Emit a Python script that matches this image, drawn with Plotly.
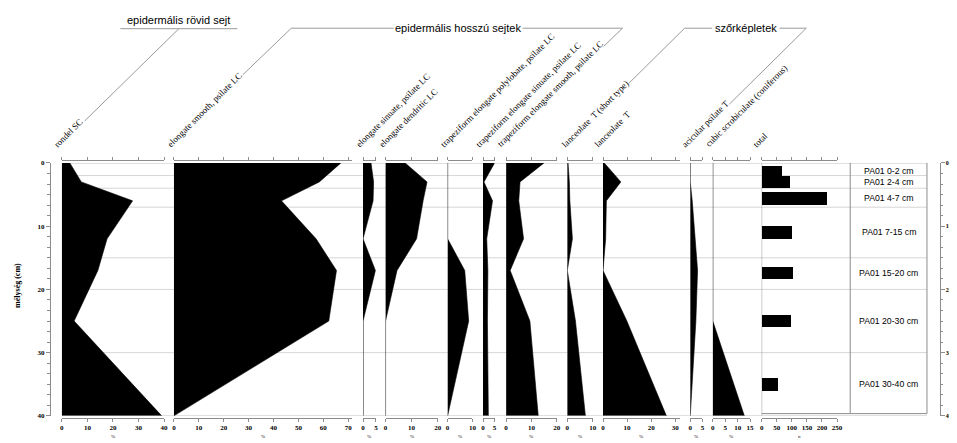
import plotly.graph_objects as go

# ---------------- data ----------------
curve_depth = [0, 3, 6, 12, 17, 25, 40]
rondel_sc = [3.1, 7.6, 27.7, 17.7, 14.1, 4.8, 39.1]
elongate_smooth = [67.1, 58.4, 43.2, 57.1, 65.3, 62.2, 0]
elongate_sinuate = [3.1, 4.1, 3.9, 0, 4.8, 0, 0]
elongate_dendritic = [7.5, 15.9, 14.4, 11.9, 4.4, 0, 0]
trap_polylobate = [0, 0, 0, 0, 6.9, 8.5, 0]
trap_sinuate = [5.0, 0.4, 4.1, 1.6, 2.1, 1.9, 2.3]
trap_smooth = [15.0, 5.5, 5.0, 6.9, 1.6, 9.4, 12.7]
lanceolate_short = [0.3, 0.8, 1.0, 2.0, 0, 3.2, 7.1]
lanceolate = [0.5, 7.4, 1.4, 1.1, 0, 9.9, 26.3]
acicular = [0, 0, 0.8, 2.0, 3.0, 2.3, 0]
cubic = [0, 0, 0, 0, 0, 0, 12.7]

sample_depth = [1.25, 3, 5.6, 11, 17.4, 25, 35]
sample_width = [1.5, 2, 2, 2, 2, 2, 2]
total_n = [66, 92, 215, 101, 103, 97, 54]
sample_labels = ["PA01 0-2 cm", "PA01 2-4 cm", "PA01 4-7 cm", "PA01 7-15 cm",
                 "PA01 15-20 cm", "PA01 20-30 cm", "PA01 30-40 cm"]
boundaries = [0, 2, 4, 7, 15, 20, 30, 40]

names = ["rondel SC", "elongate smooth, psilate LC", "elongate sinuate, psilate LC",
         "elongate dendritic LC", "trapeziform elongate polylobate, psilate LC",
         "trapeziform elongate sinuate, psilate LC", "trapeziform elongate smooth, psilate LC",
         "lanceolate  T (short type)", "lanceolate  T", "acicular psilate T",
         "cubic scrobiculate (coniferous)", "total"]
series = [rondel_sc, elongate_smooth, elongate_sinuate, elongate_dendritic,
          trap_polylobate, trap_sinuate, trap_smooth, lanceolate_short,
          lanceolate, acicular, cubic]

# ---------------- layout (pixel geometry, page coordinates) ----------------
W, H = 957, 443
OFF = 8  # page body margin
def px(x):
    return (x - OFF) / W
def py(y):
    return 1 - (y - OFF) / H

# start px, end px, axis max, dtick
panel_geom = [(60.3, 163.3, 40, 10), (173.3, 353.3, 71.7, 10), (364, 377, 5, 5),
              (386.7, 439.3, 20, 10), (449.3, 474.3, 10, 10), (485, 496.7, 5, 5),
              (508.3, 559.3, 20, 10), (570, 595.7, 10, 10), (606, 683.3, 31.8, 10),
              (694, 706.3, 5, 5), (716.7, 754.3, 15, 5), (766, 842, 250, 50)]
label_x = [55, 169, 360, 382.7, 445, 480, 502, 567, 600, 688, 712, 760]

Y_TOP, Y_BOT = 161.7, 419.3
AX_BOT, AX_TOP = 421, 158.3
GRAY = "#8c8c8c"
SERIF = "Liberation Serif"
SANS = "Liberation Sans"

fig = go.Figure()

for i, vals in enumerate(series):
    ax = "x" if i == 0 else f"x{i+1}"
    fig.add_trace(go.Scatter(x=vals, y=curve_depth, xaxis=ax, yaxis="y", mode="lines",
                             line=dict(color="black", width=0.6), fill="tozerox",
                             fillcolor="black", showlegend=False, hoverinfo="skip"))

fig.add_trace(go.Bar(x=total_n, y=sample_depth, width=sample_width, orientation="h",
                     xaxis="x12", yaxis="y", marker=dict(color="black", line=dict(width=0)),
                     showlegend=False, hoverinfo="skip"))

# dummy traces for top axes and the right depth axis
for i in range(12):
    fig.add_trace(go.Scatter(x=[0], y=[0], xaxis=f"x{13+i}", yaxis="y", mode="markers",
                             marker=dict(size=1, opacity=0), showlegend=False, hoverinfo="skip"))
fig.add_trace(go.Scatter(x=[0], y=[0], xaxis="x12", yaxis="y2", mode="markers",
                         marker=dict(size=1, opacity=0), showlegend=False, hoverinfo="skip"))

layout = dict(
    width=W, height=H, margin=dict(l=0, r=0, t=0, b=0),
    paper_bgcolor="white", plot_bgcolor="rgba(0,0,0,0)",
    bargap=0,
)

tickfont = dict(family=SERIF, size=7, color="black", weight="bold")
for i, (x0, x1, mx, dt) in enumerate(panel_geom):
    key = "xaxis" if i == 0 else f"xaxis{i+1}"
    layout[key] = dict(domain=[px(x0), px(x1)], range=[0, mx], anchor="free",
                       position=py(AX_BOT), side="bottom", showline=True, linecolor=GRAY,
                       linewidth=1, ticks="outside", ticklen=3, tickcolor=GRAY,
                       tick0=0, dtick=dt, showgrid=False, zeroline=False,
                       tickfont=tickfont, fixedrange=True)
    base = "x" if i == 0 else f"x{i+1}"
    layout[f"xaxis{13+i}"] = dict(overlaying=base, range=[0, mx], anchor="free",
                                  position=py(AX_TOP), side="top", showline=True,
                                  linecolor=GRAY, linewidth=1, ticks="outside", ticklen=3,
                                  tickcolor=GRAY, tick0=0, dtick=dt, showgrid=False,
                                  zeroline=False, showticklabels=False)

layout["yaxis"] = dict(domain=[py(Y_BOT), py(Y_TOP)], range=[40, 0], anchor="free",
                       position=px(48.3), side="left", showline=True, linecolor=GRAY,
                       ticks="outside", ticklen=4, tickcolor=GRAY, tickvals=[0, 10, 20, 30, 40],
                       minor=dict(dtick=10/6, tick0=0, ticks="outside", ticklen=2.5,
                                  tickcolor=GRAY),
                       showgrid=False, zeroline=False, tickfont=tickfont)
layout["yaxis2"] = dict(overlaying="y", range=[40, 0], anchor="free", position=px(945.5),
                        side="right", showline=True, linecolor=GRAY, ticks="outside",
                        ticklen=4, tickcolor=GRAY, tickvals=[0, 10, 20, 30, 40],
                        minor=dict(dtick=10/6, tick0=0, ticks="outside", ticklen=2.5,
                                   tickcolor=GRAY),
                        showgrid=False, zeroline=False,
                        tickfont=dict(family=SERIF, size=6, color="black", weight="bold"))
fig.update_layout(**layout)

shapes = []
# sample boundary lines
for b in boundaries:
    shapes.append(dict(type="line", xref="paper", yref="y", x0=px(60.3), x1=px(932.7),
                       y0=b, y1=b, layer="below",
                       line=dict(color="#d6d6d6", width=1.6 if b in (0, 40) else 1)))
# zero baselines
for i in range(12):
    ax = "x" if i == 0 else f"x{i+1}"
    shapes.append(dict(type="line", xref=ax, yref="y", x0=0, x1=0, y0=0, y1=40,
                       layer="below", line=dict(color=GRAY, width=1)))
# label box
shapes.append(dict(type="line", xref="paper", yref="paper", x0=px(855.3), x1=px(855.3),
                   y0=py(Y_TOP), y1=py(417), line=dict(color=GRAY, width=1)))
shapes.append(dict(type="line", xref="paper", yref="paper", x0=px(932.7), x1=px(932.7),
                   y0=py(Y_TOP), y1=py(417), line=dict(color=GRAY, width=1)))
shapes.append(dict(type="line", xref="paper", yref="paper", x0=px(766), x1=px(932.7),
                   y0=py(417), y1=py(417), line=dict(color=GRAY, width=1)))

# group header lines
def seg(x0, y0, x1, y1):
    shapes.append(dict(type="line", xref="paper", yref="paper", x0=px(x0), y0=py(y0),
                       x1=px(x1), y1=py(y1), line=dict(color="#9a9a9a", width=1)))
seg(119.3, 25, 237.3, 25)
seg(178.3, 25, 83.3, 119)
seg(291.7, 24.5, 395, 24.5)
seg(291.7, 24.5, 242.7, 72)
seg(525, 24.5, 625.7, 24.5)
seg(625.7, 24.5, 606.7, 43)
seg(688.3, 24.5, 716, 24.5)
seg(688.3, 24.5, 631.7, 81)
seg(784, 24.5, 811, 24.5)
seg(811, 24.5, 733.3, 102)
fig.update_layout(shapes=shapes)

ann = []
for name, lx in zip(names, label_x):
    ann.append(dict(text=name, x=px(lx - 6), y=py(149), xref="paper", yref="paper",
                    xanchor="left", yanchor="bottom", textangle=-45, showarrow=False,
                    font=dict(family=SERIF, size=9, color="black"), borderpad=0))
for i, (x0, x1, mx, dt) in enumerate(panel_geom):
    ann.append(dict(text="n" if i == 11 else "%", x=px((x0 + x1) / 2), y=py(440),
                    xref="paper", yref="paper", showarrow=False, xanchor="center",
                    yanchor="middle", font=dict(family=SERIF, size=5, color="black")))
for lab, d in zip(sample_labels, sample_depth):
    ann.append(dict(text=lab, x=px(894), y=d, xref="paper", yref="y", showarrow=False,
                    xanchor="center", yanchor="middle",
                    font=dict(family=SANS, size=8.7, color="black")))
headers = [("epidermális rövid sejt", 178, 16.5), ("epidermális hosszú sejtek", 460, 24.5),
           ("szőrképletek", 750, 24.5)]
for t, hx, hy in headers:
    ann.append(dict(text=t, x=px(hx), y=py(hy), xref="paper", yref="paper", showarrow=False,
                    xanchor="center", yanchor="middle",
                    font=dict(family=SANS, size=11, color="black")))
ann.append(dict(text="mélység (cm)", x=px(16), y=py(286), xref="paper", yref="paper",
                showarrow=False, textangle=-90, xanchor="center", yanchor="middle",
                font=dict(family=SERIF, size=8, color="black", weight="bold")))
fig.update_layout(annotations=ann)

fig.write_html("out.html")
